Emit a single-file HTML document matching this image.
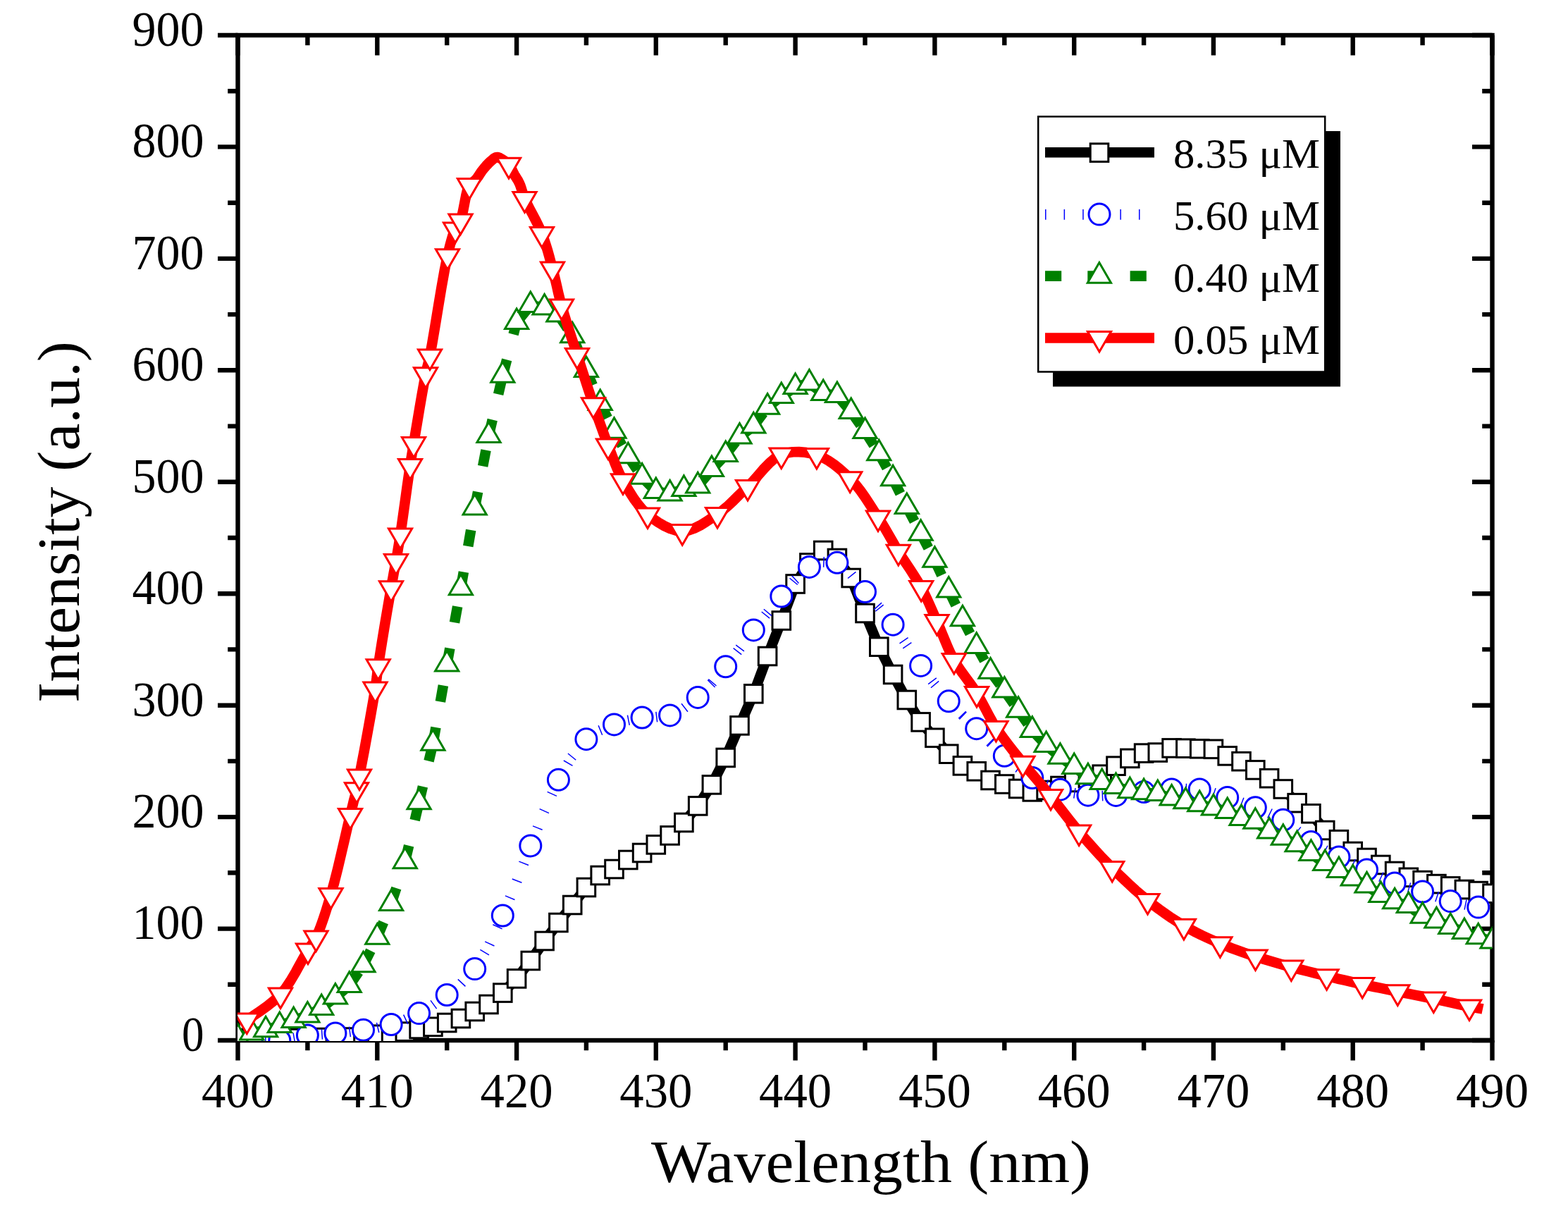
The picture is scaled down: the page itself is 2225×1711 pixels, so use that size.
<!DOCTYPE html>
<html><head><meta charset="utf-8"><title>Intensity vs Wavelength</title>
<style>html,body{margin:0;padding:0;background:#fff;}body{width:2225px;height:1711px;overflow:hidden;}svg{display:block;}</style>
</head><body>
<svg width="2225" height="1711" viewBox="0 0 2225 1711">
<rect width="2225" height="1711" fill="#fff"/>
<defs><clipPath id="pc"><rect x="337" y="50" width="1780.5" height="1427"/></clipPath></defs>
<rect x="337.5" y="50" width="1780" height="1426" fill="none" stroke="#000" stroke-width="6.4" stroke-linejoin="miter" stroke-linecap="square"/>
<path d="M337.5 1476V1504.5M337.5 50V78.5M436.4 1476V1490.3M436.4 50V64.3M535.3 1476V1504.5M535.3 50V78.5M634.2 1476V1490.3M634.2 50V64.3M733.1 1476V1504.5M733.1 50V78.5M831.9 1476V1490.3M831.9 50V64.3M930.8 1476V1504.5M930.8 50V78.5M1029.7 1476V1490.3M1029.7 50V64.3M1128.6 1476V1504.5M1128.6 50V78.5M1227.5 1476V1490.3M1227.5 50V64.3M1326.4 1476V1504.5M1326.4 50V78.5M1425.3 1476V1490.3M1425.3 50V64.3M1524.2 1476V1504.5M1524.2 50V78.5M1623.1 1476V1490.3M1623.1 50V64.3M1721.9 1476V1504.5M1721.9 50V78.5M1820.8 1476V1490.3M1820.8 50V64.3M1919.7 1476V1504.5M1919.7 50V78.5M2018.6 1476V1490.3M2018.6 50V64.3M2117.5 1476V1504.5M2117.5 50V78.5M337.5 1476H309M2117.5 1476H2089M337.5 1396.8H323.2M2117.5 1396.8H2103.2M337.5 1317.6H309M2117.5 1317.6H2089M337.5 1238.3H323.2M2117.5 1238.3H2103.2M337.5 1159.1H309M2117.5 1159.1H2089M337.5 1079.9H323.2M2117.5 1079.9H2103.2M337.5 1000.7H309M2117.5 1000.7H2089M337.5 921.4H323.2M2117.5 921.4H2103.2M337.5 842.2H309M2117.5 842.2H2089M337.5 763H323.2M2117.5 763H2103.2M337.5 683.8H309M2117.5 683.8H2089M337.5 604.6H323.2M2117.5 604.6H2103.2M337.5 525.3H309M2117.5 525.3H2089M337.5 446.1H323.2M2117.5 446.1H2103.2M337.5 366.9H309M2117.5 366.9H2089M337.5 287.7H323.2M2117.5 287.7H2103.2M337.5 208.4H309M2117.5 208.4H2089M337.5 129.2H323.2M2117.5 129.2H2103.2M337.5 50H309M2117.5 50H2089" stroke="#000" stroke-width="6.4" fill="none"/>
<g font-family="'Liberation Serif', 'DejaVu Serif', serif" font-size="68.9" fill="#000">
<text x="289.5" y="1490.8" text-anchor="end" textLength="31.5" lengthAdjust="spacingAndGlyphs">0</text>
<text x="289.5" y="1332.4" text-anchor="end" textLength="102" lengthAdjust="spacingAndGlyphs">100</text>
<text x="289.5" y="1173.9" text-anchor="end" textLength="102" lengthAdjust="spacingAndGlyphs">200</text>
<text x="289.5" y="1015.5" text-anchor="end" textLength="102" lengthAdjust="spacingAndGlyphs">300</text>
<text x="289.5" y="857" text-anchor="end" textLength="102" lengthAdjust="spacingAndGlyphs">400</text>
<text x="289.5" y="698.6" text-anchor="end" textLength="102" lengthAdjust="spacingAndGlyphs">500</text>
<text x="289.5" y="540.1" text-anchor="end" textLength="102" lengthAdjust="spacingAndGlyphs">600</text>
<text x="289.5" y="381.7" text-anchor="end" textLength="102" lengthAdjust="spacingAndGlyphs">700</text>
<text x="289.5" y="223.2" text-anchor="end" textLength="102" lengthAdjust="spacingAndGlyphs">800</text>
<text x="289.5" y="64.8" text-anchor="end" textLength="102" lengthAdjust="spacingAndGlyphs">900</text>
<text x="337.5" y="1571.3" text-anchor="middle" textLength="103" lengthAdjust="spacingAndGlyphs">400</text>
<text x="535.3" y="1571.3" text-anchor="middle" textLength="103" lengthAdjust="spacingAndGlyphs">410</text>
<text x="733.1" y="1571.3" text-anchor="middle" textLength="103" lengthAdjust="spacingAndGlyphs">420</text>
<text x="930.8" y="1571.3" text-anchor="middle" textLength="103" lengthAdjust="spacingAndGlyphs">430</text>
<text x="1128.6" y="1571.3" text-anchor="middle" textLength="103" lengthAdjust="spacingAndGlyphs">440</text>
<text x="1326.4" y="1571.3" text-anchor="middle" textLength="103" lengthAdjust="spacingAndGlyphs">450</text>
<text x="1524.2" y="1571.3" text-anchor="middle" textLength="103" lengthAdjust="spacingAndGlyphs">460</text>
<text x="1721.9" y="1571.3" text-anchor="middle" textLength="103" lengthAdjust="spacingAndGlyphs">470</text>
<text x="1919.7" y="1571.3" text-anchor="middle" textLength="103" lengthAdjust="spacingAndGlyphs">480</text>
<text x="2117.5" y="1571.3" text-anchor="middle" textLength="103" lengthAdjust="spacingAndGlyphs">490</text>
</g>
<text x="924" y="1677.3" font-family="'Liberation Serif', 'DejaVu Serif', serif" font-size="84.4" textLength="624" lengthAdjust="spacingAndGlyphs">Wavelength (nm)</text>
<text transform="translate(112 997) rotate(-90)" x="0" y="0" font-family="'Liberation Serif', 'DejaVu Serif', serif" font-size="84.4" textLength="513" lengthAdjust="spacingAndGlyphs">Intensity (a.u.)</text>
<g clip-path="url(#pc)">
<path d="M337.5 1473 L357.3 1473 L377.1 1473 L396.8 1473 L416.6 1473 L436.4 1473 L456.2 1472 L475.9 1472 L495.7 1471.5 L515.5 1469.5 L535.3 1467.7 L555.1 1466 L574.8 1463.6 L594.6 1460 L614.4 1456.8 L634.2 1451 L653.9 1445 L673.7 1435 L693.5 1425 L713.3 1408.6 L733.1 1388.4 L752.8 1363 L772.6 1335 L792.4 1309 L812.2 1284 L831.9 1259 L851.7 1242 L871.5 1233 L891.3 1220 L911.1 1210 L930.8 1198.4 L950.6 1185.4 L970.4 1167 L990.2 1143.4 L1009.9 1113.4 L1029.7 1075 L1049.5 1029.4 L1069.3 984.3 L1089.1 931 L1108.8 880.5 L1128.6 828.5 L1148.4 798.5 L1168.2 781 L1187.9 792 L1207.7 820 L1227.5 870 L1247.3 917.7 L1267.1 957 L1286.8 993 L1306.6 1024.4 L1326.4 1046.8 L1346.2 1069.7 L1365.9 1086.4 L1385.7 1094.3 L1405.5 1107 L1425.3 1112.5 L1445.1 1119 L1464.8 1123.4 L1484.6 1121 L1504.4 1115 L1524.2 1110 L1543.9 1104 L1563.7 1098.7 L1583.5 1086.7 L1603.3 1075.9 L1623.1 1068.6 L1642.8 1067.6 L1662.6 1061.4 L1682.4 1061.7 L1702.2 1062.3 L1721.9 1062.8 L1741.7 1072.4 L1761.5 1080.2 L1781.3 1092.4 L1801.1 1104.2 L1820.8 1119.5 L1840.6 1139.2 L1860.4 1154.3 L1880.2 1178 L1899.9 1191.2 L1919.7 1208 L1939.5 1217 L1959.3 1227 L1979.1 1236 L1998.8 1244.8 L2018.6 1249.1 L2038.4 1254.1 L2058.2 1257.4 L2077.9 1262 L2097.7 1264.1 L2117.5 1267.7" fill="none" stroke="#000" stroke-width="14.6" stroke-linejoin="round"/>
<g fill="#fff" stroke="#000" stroke-width="3">
<rect x="324.7" y="1460.2" width="25.6" height="25.6"/>
<rect x="344.5" y="1460.2" width="25.6" height="25.6"/>
<rect x="364.3" y="1460.2" width="25.6" height="25.6"/>
<rect x="384" y="1460.2" width="25.6" height="25.6"/>
<rect x="403.8" y="1460.2" width="25.6" height="25.6"/>
<rect x="423.6" y="1460.2" width="25.6" height="25.6"/>
<rect x="443.4" y="1459.2" width="25.6" height="25.6"/>
<rect x="463.1" y="1459.2" width="25.6" height="25.6"/>
<rect x="482.9" y="1458.7" width="25.6" height="25.6"/>
<rect x="502.7" y="1456.7" width="25.6" height="25.6"/>
<rect x="522.5" y="1454.9" width="25.6" height="25.6"/>
<rect x="542.3" y="1453.2" width="25.6" height="25.6"/>
<rect x="562" y="1450.8" width="25.6" height="25.6"/>
<rect x="581.8" y="1447.2" width="25.6" height="25.6"/>
<rect x="601.6" y="1444" width="25.6" height="25.6"/>
<rect x="621.4" y="1438.2" width="25.6" height="25.6"/>
<rect x="641.1" y="1432.2" width="25.6" height="25.6"/>
<rect x="660.9" y="1422.2" width="25.6" height="25.6"/>
<rect x="680.7" y="1412.2" width="25.6" height="25.6"/>
<rect x="700.5" y="1395.8" width="25.6" height="25.6"/>
<rect x="720.3" y="1375.6" width="25.6" height="25.6"/>
<rect x="740" y="1350.2" width="25.6" height="25.6"/>
<rect x="759.8" y="1322.2" width="25.6" height="25.6"/>
<rect x="779.6" y="1296.2" width="25.6" height="25.6"/>
<rect x="799.4" y="1271.2" width="25.6" height="25.6"/>
<rect x="819.1" y="1246.2" width="25.6" height="25.6"/>
<rect x="838.9" y="1229.2" width="25.6" height="25.6"/>
<rect x="858.7" y="1220.2" width="25.6" height="25.6"/>
<rect x="878.5" y="1207.2" width="25.6" height="25.6"/>
<rect x="898.3" y="1197.2" width="25.6" height="25.6"/>
<rect x="918" y="1185.6" width="25.6" height="25.6"/>
<rect x="937.8" y="1172.6" width="25.6" height="25.6"/>
<rect x="957.6" y="1154.2" width="25.6" height="25.6"/>
<rect x="977.4" y="1130.6" width="25.6" height="25.6"/>
<rect x="997.1" y="1100.6" width="25.6" height="25.6"/>
<rect x="1016.9" y="1062.2" width="25.6" height="25.6"/>
<rect x="1036.7" y="1016.6" width="25.6" height="25.6"/>
<rect x="1056.5" y="971.5" width="25.6" height="25.6"/>
<rect x="1076.3" y="918.2" width="25.6" height="25.6"/>
<rect x="1096" y="867.7" width="25.6" height="25.6"/>
<rect x="1115.8" y="815.7" width="25.6" height="25.6"/>
<rect x="1135.6" y="785.7" width="25.6" height="25.6"/>
<rect x="1155.4" y="768.2" width="25.6" height="25.6"/>
<rect x="1175.1" y="779.2" width="25.6" height="25.6"/>
<rect x="1194.9" y="807.2" width="25.6" height="25.6"/>
<rect x="1214.7" y="857.2" width="25.6" height="25.6"/>
<rect x="1234.5" y="904.9" width="25.6" height="25.6"/>
<rect x="1254.3" y="944.2" width="25.6" height="25.6"/>
<rect x="1274" y="980.2" width="25.6" height="25.6"/>
<rect x="1293.8" y="1011.6" width="25.6" height="25.6"/>
<rect x="1313.6" y="1034" width="25.6" height="25.6"/>
<rect x="1333.4" y="1056.9" width="25.6" height="25.6"/>
<rect x="1353.1" y="1073.6" width="25.6" height="25.6"/>
<rect x="1372.9" y="1081.5" width="25.6" height="25.6"/>
<rect x="1392.7" y="1094.2" width="25.6" height="25.6"/>
<rect x="1412.5" y="1099.7" width="25.6" height="25.6"/>
<rect x="1432.3" y="1106.2" width="25.6" height="25.6"/>
<rect x="1452" y="1110.6" width="25.6" height="25.6"/>
<rect x="1471.8" y="1108.2" width="25.6" height="25.6"/>
<rect x="1491.6" y="1102.2" width="25.6" height="25.6"/>
<rect x="1511.4" y="1097.2" width="25.6" height="25.6"/>
<rect x="1531.1" y="1091.2" width="25.6" height="25.6"/>
<rect x="1550.9" y="1085.9" width="25.6" height="25.6"/>
<rect x="1570.7" y="1073.9" width="25.6" height="25.6"/>
<rect x="1590.5" y="1063.1" width="25.6" height="25.6"/>
<rect x="1610.3" y="1055.8" width="25.6" height="25.6"/>
<rect x="1630" y="1054.8" width="25.6" height="25.6"/>
<rect x="1649.8" y="1048.6" width="25.6" height="25.6"/>
<rect x="1669.6" y="1048.9" width="25.6" height="25.6"/>
<rect x="1689.4" y="1049.5" width="25.6" height="25.6"/>
<rect x="1709.1" y="1050" width="25.6" height="25.6"/>
<rect x="1728.9" y="1059.6" width="25.6" height="25.6"/>
<rect x="1748.7" y="1067.4" width="25.6" height="25.6"/>
<rect x="1768.5" y="1079.6" width="25.6" height="25.6"/>
<rect x="1788.3" y="1091.4" width="25.6" height="25.6"/>
<rect x="1808" y="1106.7" width="25.6" height="25.6"/>
<rect x="1827.8" y="1126.4" width="25.6" height="25.6"/>
<rect x="1847.6" y="1141.5" width="25.6" height="25.6"/>
<rect x="1867.4" y="1165.2" width="25.6" height="25.6"/>
<rect x="1887.1" y="1178.4" width="25.6" height="25.6"/>
<rect x="1906.9" y="1195.2" width="25.6" height="25.6"/>
<rect x="1926.7" y="1204.2" width="25.6" height="25.6"/>
<rect x="1946.5" y="1214.2" width="25.6" height="25.6"/>
<rect x="1966.3" y="1223.2" width="25.6" height="25.6"/>
<rect x="1986" y="1232" width="25.6" height="25.6"/>
<rect x="2005.8" y="1236.3" width="25.6" height="25.6"/>
<rect x="2025.6" y="1241.3" width="25.6" height="25.6"/>
<rect x="2045.4" y="1244.6" width="25.6" height="25.6"/>
<rect x="2065.1" y="1249.2" width="25.6" height="25.6"/>
<rect x="2084.9" y="1251.3" width="25.6" height="25.6"/>
<rect x="2104.7" y="1254.9" width="25.6" height="25.6"/>
</g>
<path d="M337.5 1478L344.5 1477.6M344.5 1477.6L357.3 1477M357.3 1477L376.2 1476.8M376.2 1476.8L396.8 1476M396.8 1476L416.6 1472.6M416.6 1472.6L436.4 1469M436.4 1469L456.2 1467.4M456.2 1467.4L475.9 1466M475.9 1466L495.7 1463.9M495.7 1463.9L515.5 1461.3M515.5 1461.3L535.4 1458.1M535.4 1458.1L555.1 1453.5M555.1 1453.5L575 1446.6M575 1446.6L594.6 1437.6M594.6 1437.6L614.7 1425.7M614.7 1425.7L634.2 1411.5M634.2 1411.5L654.6 1394.9M654.6 1394.9L673.7 1374.6M673.7 1374.6L694.5 1339.6M694.5 1339.6L713.3 1299M713.3 1299L733.3 1250.3M733.3 1250.3L752.8 1200M752.8 1200L772 1151.3M772 1151.3L792.4 1106.3M792.4 1106.3L811.1 1074.2M811.1 1074.2L831.9 1048.7M831.9 1048.7L851.2 1036.2M851.2 1036.2L871.5 1027.9M871.5 1027.9L891.1 1021.9M891.1 1021.9L911.1 1018M911.1 1018L931 1017.3M931 1017.3L950.6 1014.9M950.6 1014.9L970.9 1004.4M970.9 1004.4L990.2 989.4M990.2 989.4L1010.4 968.9M1010.4 968.9L1029.7 945.8M1029.7 945.8L1049.6 920.1M1049.6 920.1L1069.3 893.9M1069.3 893.9L1088.9 869.5M1088.9 869.5L1108.8 846M1108.8 846L1128 822.6M1128 822.6L1148.4 804.4M1148.4 804.4L1168.2 797.4M1168.2 797.4L1187.9 798.3M1187.9 798.3L1208.3 815.4M1208.3 815.4L1227.5 839.5M1227.5 839.5L1247.5 862.1M1247.5 862.1L1267.1 886.2M1267.1 886.2L1286.9 915.1M1286.9 915.1L1306.6 944.4M1306.6 944.4L1326.1 970.5M1326.1 970.5L1346.2 994.8M1346.2 994.8L1365.8 1014.7M1365.8 1014.7L1385.7 1033.7M1385.7 1033.7L1405.4 1053.4M1405.4 1053.4L1425.3 1072.3M1425.3 1072.3L1444.7 1089.1M1444.7 1089.1L1464.8 1103.5M1464.8 1103.5L1484.4 1113.1M1484.4 1113.1L1504.4 1120.2M1504.4 1120.2L1524.1 1125.2M1524.1 1125.2L1543.9 1128.2M1543.9 1128.2L1563.7 1129.1M1563.7 1129.1L1583.5 1128.4M1583.5 1128.4L1603.3 1126.2M1603.3 1126.2L1623.1 1123.6M1623.1 1123.6L1642.8 1121.5M1642.8 1121.5L1662.6 1119.9M1662.6 1119.9L1682.4 1119M1682.4 1119L1702.2 1119.9M1702.2 1119.9L1722 1124.8M1722 1124.8L1741.7 1131.4M1741.7 1131.4L1761.6 1138.2M1761.6 1138.2L1781.3 1145.8M1781.3 1145.8L1801.3 1153.7M1801.3 1153.7L1820.8 1163.3M1820.8 1163.3L1840.7 1178.6M1840.7 1178.6L1860.4 1194.5M1860.4 1194.5L1880 1205.9M1880 1205.9L1899.9 1216M1899.9 1216L1919.7 1225.1M1919.7 1225.1L1939.5 1234M1939.5 1234L1959.2 1243.8M1959.2 1243.8L1979.1 1252.9M1979.1 1252.9L1998.8 1259.2M1998.8 1259.2L2018.6 1265M2018.6 1265L2038.4 1272M2038.4 1272L2058.2 1278.6M2058.2 1278.6L2078.8 1283.3M2078.8 1283.3L2097.7 1287.1M2097.7 1287.1L2110.5 1290.2M2110.5 1290.2L2117.5 1292" fill="none" stroke="#0000ff" stroke-width="14.6" stroke-dasharray="1.5 25.1"/>
<g fill="#fff" stroke="#0000ff" stroke-width="3">
<circle cx="357.3" cy="1477" r="15"/>
<circle cx="396.8" cy="1476" r="15"/>
<circle cx="436.4" cy="1469" r="15"/>
<circle cx="475.9" cy="1466" r="15"/>
<circle cx="515.5" cy="1461.3" r="15"/>
<circle cx="555.1" cy="1453.5" r="15"/>
<circle cx="594.6" cy="1437.6" r="15"/>
<circle cx="634.2" cy="1411.5" r="15"/>
<circle cx="673.7" cy="1374.6" r="15"/>
<circle cx="713.3" cy="1299" r="15"/>
<circle cx="752.8" cy="1200" r="15"/>
<circle cx="792.4" cy="1106.3" r="15"/>
<circle cx="831.9" cy="1048.7" r="15"/>
<circle cx="871.5" cy="1027.9" r="15"/>
<circle cx="911.1" cy="1018" r="15"/>
<circle cx="950.6" cy="1014.9" r="15"/>
<circle cx="990.2" cy="989.4" r="15"/>
<circle cx="1029.7" cy="945.8" r="15"/>
<circle cx="1069.3" cy="893.9" r="15"/>
<circle cx="1108.8" cy="846" r="15"/>
<circle cx="1148.4" cy="804.4" r="15"/>
<circle cx="1187.9" cy="798.3" r="15"/>
<circle cx="1227.5" cy="839.5" r="15"/>
<circle cx="1267.1" cy="886.2" r="15"/>
<circle cx="1306.6" cy="944.4" r="15"/>
<circle cx="1346.2" cy="994.8" r="15"/>
<circle cx="1385.7" cy="1033.7" r="15"/>
<circle cx="1425.3" cy="1072.3" r="15"/>
<circle cx="1464.8" cy="1103.5" r="15"/>
<circle cx="1504.4" cy="1120.2" r="15"/>
<circle cx="1543.9" cy="1128.2" r="15"/>
<circle cx="1583.5" cy="1128.4" r="15"/>
<circle cx="1623.1" cy="1123.6" r="15"/>
<circle cx="1662.6" cy="1119.9" r="15"/>
<circle cx="1702.2" cy="1119.9" r="15"/>
<circle cx="1741.7" cy="1131.4" r="15"/>
<circle cx="1781.3" cy="1145.8" r="15"/>
<circle cx="1820.8" cy="1163.3" r="15"/>
<circle cx="1860.4" cy="1194.5" r="15"/>
<circle cx="1899.9" cy="1216" r="15"/>
<circle cx="1939.5" cy="1234" r="15"/>
<circle cx="1979.1" cy="1252.9" r="15"/>
<circle cx="2018.6" cy="1265" r="15"/>
<circle cx="2058.2" cy="1278.6" r="15"/>
<circle cx="2097.7" cy="1287.1" r="15"/>
</g>
<path d="M337.5 1472.6L357.3 1465.6M357.3 1465.6L377.1 1461.4M377.1 1461.4L396.8 1455.1M396.8 1455.1L416.6 1448.1M416.6 1448.1L436.4 1440.6M436.4 1440.6L456.2 1430.1M456.2 1430.1L475.9 1414.6M475.9 1414.6L495.7 1398M495.7 1398L515.5 1369.4M515.5 1369.4L535.3 1329.8M535.3 1329.8L555.1 1282M555.1 1282L574.8 1222.3M574.8 1222.3L594.6 1138.4M594.6 1138.4L614.4 1054.8M614.4 1054.8L634.2 942.6M634.2 942.6L653.9 834.3M653.9 834.3L673.7 720.6M673.7 720.6L693.5 618.1M693.5 618.1L713.3 532.8M713.3 532.8L733.1 457.1M733.1 457.1L752.8 433.1M752.8 433.1L772.6 436.6M772.6 436.6L792.4 446.6M792.4 446.6L812.2 476.4M812.2 476.4L831.9 525.1M831.9 525.1L851.7 572.2M851.7 572.2L871.5 611.9M871.5 611.9L891.3 647.4M891.3 647.4L911.1 676.8M911.1 676.8L930.8 697.1M930.8 697.1L950.6 700.6M950.6 700.6L970.4 694M970.4 694L990.2 689.5M990.2 689.5L1009.9 666.2M1009.9 666.2L1029.7 645.1M1029.7 645.1L1049.5 619.7M1049.5 619.7L1069.3 604.5M1069.3 604.5L1089.1 577.8M1089.1 577.8L1108.8 562.1M1108.8 562.1L1128.6 549.2M1128.6 549.2L1148.4 543.6M1148.4 543.6L1168.2 558.2M1168.2 558.2L1187.9 561.1M1187.9 561.1L1207.7 584.1M1207.7 584.1L1227.5 612.1M1227.5 612.1L1247.3 643.4M1247.3 643.4L1267.1 679.4M1267.1 679.4L1286.8 719.1M1286.8 719.1L1306.6 756.9M1306.6 756.9L1326.4 794.9M1326.4 794.9L1346.2 837.6M1346.2 837.6L1365.9 878.4M1365.9 878.4L1385.7 917M1385.7 917L1405.5 952.8M1405.5 952.8L1425.3 979.7M1425.3 979.7L1445.1 1007.9M1445.1 1007.9L1464.8 1036M1464.8 1036L1484.6 1057.2M1484.6 1057.2L1504.4 1073.9M1504.4 1073.9L1524.2 1088.1M1524.2 1088.1L1543.9 1102.4M1543.9 1102.4L1563.7 1110.1M1563.7 1110.1L1583.5 1116.2M1583.5 1116.2L1603.3 1122.3M1603.3 1122.3L1623.1 1124.3M1623.1 1124.3L1642.8 1126.2M1642.8 1126.2L1662.6 1132.6M1662.6 1132.6L1682.4 1137.3M1682.4 1137.3L1702.2 1141.3M1702.2 1141.3L1721.9 1146.5M1721.9 1146.5L1741.7 1151.1M1741.7 1151.1L1761.5 1161.2M1761.5 1161.2L1781.3 1165.9M1781.3 1165.9L1801.1 1179.7M1801.1 1179.7L1820.8 1188.9M1820.8 1188.9L1840.6 1198.3M1840.6 1198.3L1860.4 1211M1860.4 1211L1880.2 1225.1M1880.2 1225.1L1899.9 1235.1M1899.9 1235.1L1919.7 1246.5M1919.7 1246.5L1939.5 1256.5M1939.5 1256.5L1959.3 1270.1M1959.3 1270.1L1979.1 1279.4M1979.1 1279.4L1998.8 1285.1M1998.8 1285.1L2018.6 1299.8M2018.6 1299.8L2038.4 1306.5M2038.4 1306.5L2058.2 1315.1M2058.2 1315.1L2077.9 1322.2M2077.9 1322.2L2097.7 1329.4M2097.7 1329.4L2117.5 1335.6" fill="none" stroke="#008000" stroke-width="14.6" stroke-dasharray="23.2 37.1"/>
<g fill="#fff" stroke="#008000" stroke-width="3" stroke-miterlimit="10">
<path d="M337.5 1453.4L354.1 1482L320.9 1482Z"/>
<path d="M357.3 1446.4L373.9 1475L340.7 1475Z"/>
<path d="M377.1 1442.2L393.7 1470.8L360.5 1470.8Z"/>
<path d="M396.8 1435.9L413.4 1464.5L380.2 1464.5Z"/>
<path d="M416.6 1428.9L433.2 1457.5L400 1457.5Z"/>
<path d="M436.4 1421.4L453 1450L419.8 1450Z"/>
<path d="M456.2 1410.9L472.8 1439.5L439.6 1439.5Z"/>
<path d="M475.9 1395.4L492.5 1424L459.3 1424Z"/>
<path d="M495.7 1378.8L512.3 1407.4L479.1 1407.4Z"/>
<path d="M515.5 1350.2L532.1 1378.8L498.9 1378.8Z"/>
<path d="M535.3 1310.6L551.9 1339.2L518.7 1339.2Z"/>
<path d="M555.1 1262.8L571.7 1291.4L538.5 1291.4Z"/>
<path d="M574.8 1203.1L591.4 1231.7L558.2 1231.7Z"/>
<path d="M594.6 1119.2L611.2 1147.8L578 1147.8Z"/>
<path d="M614.4 1035.6L631 1064.2L597.8 1064.2Z"/>
<path d="M634.2 923.4L650.8 952L617.6 952Z"/>
<path d="M653.9 815.1L670.5 843.7L637.3 843.7Z"/>
<path d="M673.7 701.4L690.3 730L657.1 730Z"/>
<path d="M693.5 598.9L710.1 627.5L676.9 627.5Z"/>
<path d="M713.3 513.6L729.9 542.2L696.7 542.2Z"/>
<path d="M733.1 437.9L749.7 466.5L716.5 466.5Z"/>
<path d="M752.8 413.9L769.4 442.5L736.2 442.5Z"/>
<path d="M772.6 417.4L789.2 446L756 446Z"/>
<path d="M792.4 427.4L809 456L775.8 456Z"/>
<path d="M812.2 457.2L828.8 485.8L795.6 485.8Z"/>
<path d="M831.9 505.9L848.5 534.5L815.3 534.5Z"/>
<path d="M851.7 553L868.3 581.6L835.1 581.6Z"/>
<path d="M871.5 592.7L888.1 621.3L854.9 621.3Z"/>
<path d="M891.3 628.2L907.9 656.8L874.7 656.8Z"/>
<path d="M911.1 657.6L927.7 686.2L894.5 686.2Z"/>
<path d="M930.8 677.9L947.4 706.5L914.2 706.5Z"/>
<path d="M950.6 681.4L967.2 710L934 710Z"/>
<path d="M970.4 674.8L987 703.4L953.8 703.4Z"/>
<path d="M990.2 670.3L1006.8 698.9L973.6 698.9Z"/>
<path d="M1009.9 647L1026.5 675.6L993.3 675.6Z"/>
<path d="M1029.7 625.9L1046.3 654.5L1013.1 654.5Z"/>
<path d="M1049.5 600.5L1066.1 629.1L1032.9 629.1Z"/>
<path d="M1069.3 585.3L1085.9 613.9L1052.7 613.9Z"/>
<path d="M1089.1 558.6L1105.7 587.2L1072.5 587.2Z"/>
<path d="M1108.8 542.9L1125.4 571.5L1092.2 571.5Z"/>
<path d="M1128.6 530L1145.2 558.6L1112 558.6Z"/>
<path d="M1148.4 524.4L1165 553L1131.8 553Z"/>
<path d="M1168.2 539L1184.8 567.6L1151.6 567.6Z"/>
<path d="M1187.9 541.9L1204.5 570.5L1171.3 570.5Z"/>
<path d="M1207.7 564.9L1224.3 593.5L1191.1 593.5Z"/>
<path d="M1227.5 592.9L1244.1 621.5L1210.9 621.5Z"/>
<path d="M1247.3 624.2L1263.9 652.8L1230.7 652.8Z"/>
<path d="M1267.1 660.2L1283.7 688.8L1250.5 688.8Z"/>
<path d="M1286.8 699.9L1303.4 728.5L1270.2 728.5Z"/>
<path d="M1306.6 737.7L1323.2 766.3L1290 766.3Z"/>
<path d="M1326.4 775.7L1343 804.3L1309.8 804.3Z"/>
<path d="M1346.2 818.4L1362.8 847L1329.6 847Z"/>
<path d="M1365.9 859.2L1382.5 887.8L1349.3 887.8Z"/>
<path d="M1385.7 897.8L1402.3 926.4L1369.1 926.4Z"/>
<path d="M1405.5 933.6L1422.1 962.2L1388.9 962.2Z"/>
<path d="M1425.3 960.5L1441.9 989.1L1408.7 989.1Z"/>
<path d="M1445.1 988.7L1461.7 1017.3L1428.5 1017.3Z"/>
<path d="M1464.8 1016.8L1481.4 1045.4L1448.2 1045.4Z"/>
<path d="M1484.6 1038L1501.2 1066.6L1468 1066.6Z"/>
<path d="M1504.4 1054.7L1521 1083.3L1487.8 1083.3Z"/>
<path d="M1524.2 1068.9L1540.8 1097.5L1507.6 1097.5Z"/>
<path d="M1543.9 1083.2L1560.5 1111.8L1527.3 1111.8Z"/>
<path d="M1563.7 1090.9L1580.3 1119.5L1547.1 1119.5Z"/>
<path d="M1583.5 1097L1600.1 1125.6L1566.9 1125.6Z"/>
<path d="M1603.3 1103.1L1619.9 1131.7L1586.7 1131.7Z"/>
<path d="M1623.1 1105.1L1639.7 1133.7L1606.5 1133.7Z"/>
<path d="M1642.8 1107L1659.4 1135.6L1626.2 1135.6Z"/>
<path d="M1662.6 1113.4L1679.2 1142L1646 1142Z"/>
<path d="M1682.4 1118.1L1699 1146.7L1665.8 1146.7Z"/>
<path d="M1702.2 1122.1L1718.8 1150.7L1685.6 1150.7Z"/>
<path d="M1721.9 1127.3L1738.5 1155.9L1705.3 1155.9Z"/>
<path d="M1741.7 1131.9L1758.3 1160.5L1725.1 1160.5Z"/>
<path d="M1761.5 1142L1778.1 1170.6L1744.9 1170.6Z"/>
<path d="M1781.3 1146.7L1797.9 1175.3L1764.7 1175.3Z"/>
<path d="M1801.1 1160.5L1817.7 1189.1L1784.5 1189.1Z"/>
<path d="M1820.8 1169.7L1837.4 1198.3L1804.2 1198.3Z"/>
<path d="M1840.6 1179.1L1857.2 1207.7L1824 1207.7Z"/>
<path d="M1860.4 1191.8L1877 1220.4L1843.8 1220.4Z"/>
<path d="M1880.2 1205.9L1896.8 1234.5L1863.6 1234.5Z"/>
<path d="M1899.9 1215.9L1916.5 1244.5L1883.3 1244.5Z"/>
<path d="M1919.7 1227.3L1936.3 1255.9L1903.1 1255.9Z"/>
<path d="M1939.5 1237.3L1956.1 1265.9L1922.9 1265.9Z"/>
<path d="M1959.3 1250.9L1975.9 1279.5L1942.7 1279.5Z"/>
<path d="M1979.1 1260.2L1995.7 1288.8L1962.5 1288.8Z"/>
<path d="M1998.8 1265.9L2015.4 1294.5L1982.2 1294.5Z"/>
<path d="M2018.6 1280.6L2035.2 1309.2L2002 1309.2Z"/>
<path d="M2038.4 1287.3L2055 1315.9L2021.8 1315.9Z"/>
<path d="M2058.2 1295.9L2074.8 1324.5L2041.6 1324.5Z"/>
<path d="M2077.9 1303L2094.5 1331.6L2061.3 1331.6Z"/>
<path d="M2097.7 1310.2L2114.3 1338.8L2081.1 1338.8Z"/>
<path d="M2117.5 1316.4L2134.1 1345L2100.9 1345Z"/>
</g>
<path d="M350.3 1447 L352.9 1445.4 L359.6 1441.1 L368.9 1434.7 L379.5 1427.1 L389.6 1419 L398 1411 L405.6 1401.5 L412.9 1390.4 L419.9 1378.6 L426.2 1367.1 L432 1356.6 L437 1348 L439.3 1344.5 L441.3 1341.6 L443.1 1339.1 L444.9 1336.5 L446.6 1333.6 L448.5 1330 L451.9 1322.3 L455.4 1313.3 L458.9 1303.3 L462.5 1292.5 L466 1281.2 L469.5 1269.5 L474.3 1252 L479.3 1232.2 L484.2 1211.3 L489 1190.8 L493.3 1172.1 L497 1156.4 L498.8 1149 L500.5 1142.2 L502 1136 L503.5 1130.3 L504.8 1124.9 L506 1119.7 L506.8 1116.4 L507.4 1113.6 L508 1111 L508.5 1108.2 L509.2 1105 L510 1101 L512.9 1085.7 L516.9 1064.8 L521.3 1040.8 L525.7 1016.4 L529.6 994.3 L532.5 977 L533.4 970.6 L534.1 965.4 L534.7 960.8 L535.2 956.1 L535.8 951 L536.7 944.7 L539.1 929.4 L542.1 910.5 L545.5 889.8 L549 868.9 L552.3 849.7 L555 833.8 L556.3 826.3 L557.6 819.5 L558.7 813.3 L559.8 807.5 L560.9 801.6 L562 795.5 L563 789.6 L564 783.9 L564.9 778.3 L565.9 772.5 L566.9 766.1 L568 759 L570.1 744.7 L572.5 727.7 L575.1 709.3 L577.6 691 L580 674.3 L582 660.5 L582.9 654.5 L583.7 649.5 L584.4 645 L585.2 640.5 L586 635.5 L587 629.5 L589.3 615.5 L592.2 598.3 L595.3 579.6 L598.5 561 L601.5 544.2 L604 530.8 L605.1 525.8 L606 521.7 L606.9 518.2 L607.9 514.5 L608.9 510.3 L610 505 L613.3 486.9 L617.4 462.7 L621.9 435.3 L626.5 407.6 L631 382.4 L635 362.7 L636.9 354.7 L638.7 347.5 L640.5 340.9 L642.2 335 L644.1 329.7 L646 325 L647.2 322.7 L648.5 320.8 L649.7 319.1 L651 317.4 L652.3 315.5 L653.5 313 L655.6 306.1 L657.5 297.1 L659.4 287.1 L661.3 277.3 L663.4 268.7 L666 262.6 L667.4 260.8 L668.9 259.4 L670.4 258.4 L672 257.4 L673.5 256.4 L675 255 L676.7 253 L678.4 250.7 L680 248.2 L681.6 245.7 L683.3 243.3 L685 241 L686.8 238.8 L688.6 236.7 L690.4 234.6 L692.3 232.6 L694.1 230.7 L696 229 L697.5 227.7 L699 226.4 L700.5 225.1 L702 224.1 L703.5 223.4 L705 223 L706.5 223.1 L708 223.5 L709.5 224.3 L711.1 225.2 L712.6 226.1 L714 227 L715.4 227.9 L716.8 228.8 L718.2 229.7 L719.5 230.8 L720.8 232 L722 233.3 L723.5 235.3 L724.9 237.7 L726.2 240.3 L727.5 242.9 L728.7 245.6 L730 248 L731.2 250 L732.4 251.9 L733.6 253.8 L734.8 255.7 L735.9 257.8 L737 260 L738.3 263.1 L739.4 266.4 L740.5 269.9 L741.6 273.5 L742.9 277.4 L744.5 281.6 L747.8 288.8 L751.8 296.7 L756.3 305.2 L760.9 314 L765.3 322.9 L769 331.5 L772 339.6 L774.7 347.8 L777.2 356 L779.5 364.3 L781.7 372.6 L784 381 L786.2 389.6 L788.3 398.3 L790.3 406.9 L792.3 415.8 L794.5 424.8 L797 434 L800.2 445.1 L803.7 456.5 L807.5 468.2 L811.3 480 L815.2 491.8 L819 503.5 L822.8 515.3 L826.6 527.1 L830.5 539 L834.3 550.8 L838.2 562.4 L842 573.7 L845.5 583.8 L848.9 593.8 L852.4 603.5 L855.9 613.2 L859.4 622.7 L863 632 L866.3 640.6 L869.5 649 L872.7 657.4 L876.1 665.6 L879.8 673.7 L884 681.7 L888.9 690.3 L894.1 699 L899.6 707.6 L905.6 715.8 L912 723.4 L919 730 L926.3 735.8 L934.3 741.3 L942.6 746.1 L951.2 750.1 L959.8 752.7 L968.2 753.6 L976.6 752.5 L985.1 749.6 L993.6 745.4 L1002 740.3 L1010.1 734.9 L1018 729.5 L1025.6 723.9 L1032.9 717.7 L1039.9 711.1 L1046.8 704.3 L1053.8 697.4 L1061 690.5 L1068.7 682.6 L1076.4 673.8 L1084.1 664.9 L1092 656.7 L1100.1 649.8 L1108.7 645 L1116.7 642.6 L1125.1 641.3 L1133.7 641.1 L1142.3 641.8 L1150.8 643.3 L1158.9 645.5 L1167.3 648.9 L1175.5 653.5 L1183.6 659 L1191.4 665.2 L1199 671.9 L1206.2 678.8 L1213.6 686.9 L1220.7 695.8 L1227.4 705.2 L1233.8 715 L1240 724.6 L1246 733.9 L1251.2 742.1 L1256 750.1 L1260.7 758.1 L1265.3 766.2 L1269.9 774.2 L1274.8 782.3 L1280.2 790.8 L1285.7 799.3 L1291.4 807.8 L1297 816.4 L1302.3 824.9 L1307.2 833.5 L1311.4 841.4 L1315.2 849.3 L1318.8 857.2 L1322.3 865.2 L1325.8 873.2 L1329.5 881.4 L1333.4 890.4 L1337.2 899.7 L1341.1 909.1 L1345 918.5 L1349.2 927.7 L1353.8 936.5 L1358.7 944.7 L1364.1 952.6 L1369.7 960.3 L1375.3 967.9 L1380.8 975.6 L1386 983.5 L1390.7 991.5 L1395.2 999.7 L1399.5 1007.9 L1403.8 1016.1 L1408.4 1024.3 L1413.4 1032.4 L1419.2 1040.9 L1425.3 1049.3 L1431.7 1057.6 L1438.2 1065.9 L1444.8 1074.1 L1451.4 1082.3 L1457.9 1090.3 L1464.5 1098.1 L1471.1 1105.9 L1477.8 1113.7 L1484.4 1121.5 L1491 1129.5 L1497.6 1137.8 L1504.2 1146.2 L1510.8 1154.7 L1517.4 1163.2 L1524.1 1171.6 L1531.1 1180 L1538.6 1188.7 L1546.3 1197.4 L1554.1 1206.1 L1562 1214.7 L1570.1 1223.1 L1578.2 1231.4 L1586.3 1239.5 L1594.6 1247.4 L1602.9 1255.3 L1611.3 1263 L1619.9 1270.4 L1628.5 1277.5 L1636.9 1284.1 L1645.3 1290.4 L1653.9 1296.5 L1662.5 1302.4 L1671.2 1308 L1679.9 1313.3 L1688.3 1318.1 L1696.9 1322.7 L1705.5 1327 L1714.1 1331 L1722.8 1334.9 L1731.4 1338.7 L1739.7 1342.1 L1748 1345.4 L1756.4 1348.4 L1764.7 1351.4 L1773.1 1354.2 L1781.5 1357 L1789.9 1359.7 L1798.4 1362.3 L1806.8 1364.8 L1815.3 1367.3 L1823.8 1369.7 L1832.3 1372 L1840.7 1374.3 L1849.1 1376.4 L1857.4 1378.5 L1865.8 1380.6 L1874.2 1382.7 L1882.6 1384.7 L1891 1386.7 L1899.5 1388.8 L1907.9 1390.7 L1916.3 1392.7 L1924.8 1394.6 L1933.2 1396.5 L1941.6 1398.3 L1949.9 1400 L1958.2 1401.7 L1966.6 1403.4 L1974.9 1405.1 L1983.3 1406.8 L1991.8 1408.5 L2000.3 1410.2 L2008.8 1411.9 L2017.3 1413.5 L2025.8 1415.3 L2034.3 1417 L2043 1418.9 L2052.1 1420.8 L2061.2 1422.9 L2069.9 1424.8 L2078 1426.5 L2085 1428 L2089.1 1428.8 L2093.4 1429.6 L2097.4 1430.3 L2100.8 1430.9 L2103.1 1431.3 L2104 1431.5" fill="none" stroke="#ff0000" stroke-width="14.6" stroke-linejoin="round"/>
<g fill="#fff" stroke="#ff0000" stroke-width="3" stroke-miterlimit="10">
<path d="M333.7 1438L366.9 1438L350.3 1466.6Z"/>
<path d="M381.4 1402L414.6 1402L398 1430.6Z"/>
<path d="M420.4 1339L453.6 1339L437 1367.6Z"/>
<path d="M431.9 1321L465.1 1321L448.5 1349.6Z"/>
<path d="M452.9 1260.5L486.1 1260.5L469.5 1289.1Z"/>
<path d="M480.4 1147.4L513.6 1147.4L497 1176Z"/>
<path d="M489.4 1110.7L522.6 1110.7L506 1139.3Z"/>
<path d="M493.4 1092L526.6 1092L510 1120.6Z"/>
<path d="M515.9 968L549.1 968L532.5 996.6Z"/>
<path d="M520.1 935.7L553.3 935.7L536.7 964.3Z"/>
<path d="M538.4 824.8L571.6 824.8L555 853.4Z"/>
<path d="M545.4 786.5L578.6 786.5L562 815.1Z"/>
<path d="M551.4 750L584.6 750L568 778.6Z"/>
<path d="M565.4 651.5L598.6 651.5L582 680.1Z"/>
<path d="M570.4 620.5L603.6 620.5L587 649.1Z"/>
<path d="M587.4 521.8L620.6 521.8L604 550.4Z"/>
<path d="M593.4 496L626.6 496L610 524.6Z"/>
<path d="M618.4 353.7L651.6 353.7L635 382.3Z"/>
<path d="M629.4 316L662.6 316L646 344.6Z"/>
<path d="M636.9 304L670.1 304L653.5 332.6Z"/>
<path d="M649.4 253.6L682.6 253.6L666 282.2Z"/>
<path d="M705.4 224.3L738.6 224.3L722 252.9Z"/>
<path d="M727.9 272.6L761.1 272.6L744.5 301.2Z"/>
<path d="M752.4 322.5L785.6 322.5L769 351.1Z"/>
<path d="M767.4 372L800.6 372L784 400.6Z"/>
<path d="M780.4 425L813.6 425L797 453.6Z"/>
<path d="M802.4 494.5L835.6 494.5L819 523.1Z"/>
<path d="M825.4 564.7L858.6 564.7L842 593.3Z"/>
<path d="M846.4 623L879.6 623L863 651.6Z"/>
<path d="M867.4 672.7L900.6 672.7L884 701.3Z"/>
<path d="M902.4 721L935.6 721L919 749.6Z"/>
<path d="M951.6 744.6L984.8 744.6L968.2 773.2Z"/>
<path d="M1001.4 720.5L1034.6 720.5L1018 749.1Z"/>
<path d="M1044.4 681.5L1077.6 681.5L1061 710.1Z"/>
<path d="M1092.1 636L1125.3 636L1108.7 664.6Z"/>
<path d="M1142.3 636.5L1175.5 636.5L1158.9 665.1Z"/>
<path d="M1189.6 669.8L1222.8 669.8L1206.2 698.4Z"/>
<path d="M1229.4 724.9L1262.6 724.9L1246 753.5Z"/>
<path d="M1258.2 773.3L1291.4 773.3L1274.8 801.9Z"/>
<path d="M1290.6 824.5L1323.8 824.5L1307.2 853.1Z"/>
<path d="M1312.9 872.4L1346.1 872.4L1329.5 901Z"/>
<path d="M1337.2 927.5L1370.4 927.5L1353.8 956.1Z"/>
<path d="M1369.4 974.5L1402.6 974.5L1386 1003.1Z"/>
<path d="M1396.8 1023.4L1430 1023.4L1413.4 1052Z"/>
<path d="M1434.8 1073.3L1468 1073.3L1451.4 1101.9Z"/>
<path d="M1474.4 1120.5L1507.6 1120.5L1491 1149.1Z"/>
<path d="M1514.5 1171L1547.7 1171L1531.1 1199.6Z"/>
<path d="M1561.6 1222.4L1594.8 1222.4L1578.2 1251Z"/>
<path d="M1611.9 1268.5L1645.1 1268.5L1628.5 1297.1Z"/>
<path d="M1663.3 1304.3L1696.5 1304.3L1679.9 1332.9Z"/>
<path d="M1714.8 1329.7L1748 1329.7L1731.4 1358.3Z"/>
<path d="M1764.9 1348L1798.1 1348L1781.5 1376.6Z"/>
<path d="M1815.7 1363L1848.9 1363L1832.3 1391.6Z"/>
<path d="M1866 1375.7L1899.2 1375.7L1882.6 1404.3Z"/>
<path d="M1916.6 1387.5L1949.8 1387.5L1933.2 1416.1Z"/>
<path d="M1966.7 1397.8L1999.9 1397.8L1983.3 1426.4Z"/>
<path d="M2017.7 1408L2050.9 1408L2034.3 1436.6Z"/>
<path d="M2068.4 1419L2101.6 1419L2085 1447.6Z"/>
</g>
</g>
<rect x="1494" y="186" width="408" height="362.5" fill="#000"/>
<rect x="1473.2" y="165.4" width="407" height="362.1" fill="#fff" stroke="#000" stroke-width="2.5"/>
<path d="M1483 216.3H1638" stroke="#000" stroke-width="14.6"/>
<g fill="#fff" stroke="#000" stroke-width="3"><rect x="1547.2" y="203.8" width="25.6" height="25.6"/></g>
<path d="M1483 304.4H1638" stroke="#0000ff" stroke-width="14.6" stroke-dasharray="1.5 25.1"/>
<g fill="#fff" stroke="#0000ff" stroke-width="3"><circle cx="1560" cy="304.1" r="15"/></g>
<path d="M1483 391.6H1638" stroke="#008000" stroke-width="14.6" stroke-dasharray="23.2 37.1"/>
<g fill="#fff" stroke="#008000" stroke-width="3"><path d="M1559.9 372.6L1576.5 401.2L1543.3 401.2Z"/></g>
<path d="M1483 479.5H1638" stroke="#ff0000" stroke-width="14.6"/>
<g fill="#fff" stroke="#ff0000" stroke-width="3"><path d="M1543.4 470.5L1576.6 470.5L1560 499.1Z"/></g>
<text x="1665" y="238.2" font-family="'Liberation Serif', 'DejaVu Serif', serif" font-size="59.7" textLength="208" lengthAdjust="spacingAndGlyphs">8.35 μM</text>
<text x="1665" y="326.2" font-family="'Liberation Serif', 'DejaVu Serif', serif" font-size="59.7" textLength="208" lengthAdjust="spacingAndGlyphs">5.60 μM</text>
<text x="1665" y="414.3" font-family="'Liberation Serif', 'DejaVu Serif', serif" font-size="59.7" textLength="208" lengthAdjust="spacingAndGlyphs">0.40 μM</text>
<text x="1665" y="502.3" font-family="'Liberation Serif', 'DejaVu Serif', serif" font-size="59.7" textLength="208" lengthAdjust="spacingAndGlyphs">0.05 μM</text>
</svg>
</body></html>
